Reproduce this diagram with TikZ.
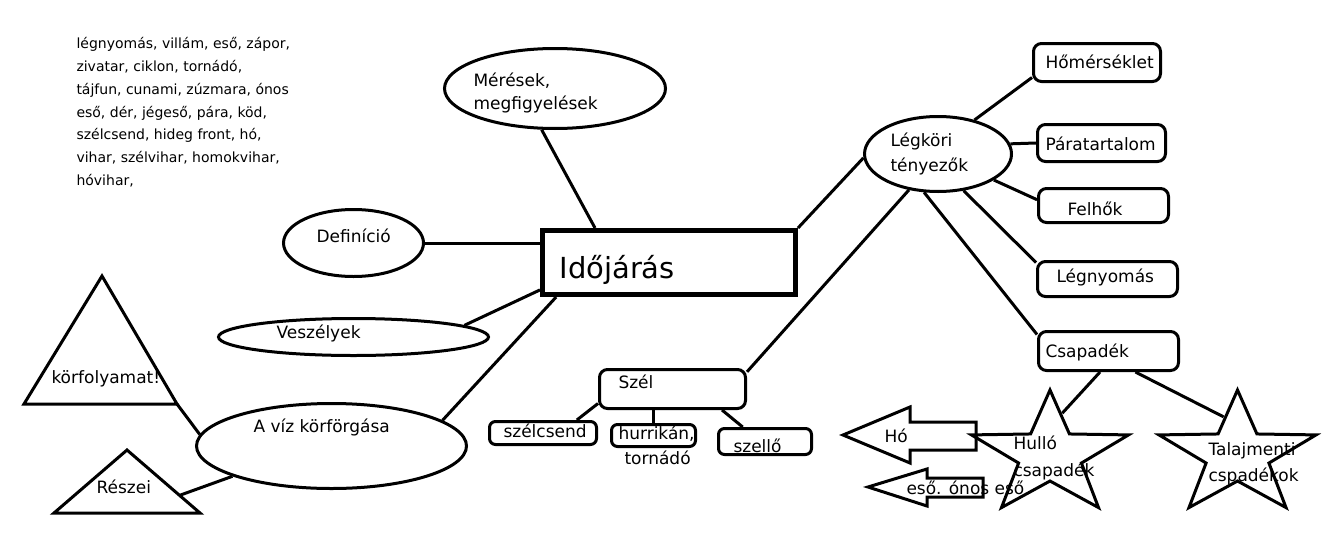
\documentclass[tikz,border=0pt]{standalone}
\usepackage{fontspec}
\setmainfont{DejaVu Sans}
\usetikzlibrary{shapes.geometric,calc}

\begin{document}
\begin{tikzpicture}[x=1pt,y=-1pt,line width=3pt,
 bubble/.style={draw,ellipse,inner sep=0pt},
 tag/.style={draw,rounded corners=8pt,inner sep=0pt},
 txt/.style={inner sep=0pt,anchor=base west,font=\fontsize{17}{23}\selectfont},
 txts/.style={inner sep=0pt,anchor=north west,align=left,font=\fontsize{17}{#1}\selectfont},
 starn/.style={draw,star,star points=5,star point ratio=2.5,minimum size=130pt,inner sep=0pt,xscale=1.27,transform shape}]
 \fill[white](0,0)rectangle(1340,538);
 \useasboundingbox(0,0)rectangle(1340,538);
 \node[txts=22.8,font=\fontsize{14}{22.8}\selectfont](list)at(75,36){légnyomás, villám, eső, zápor,\\zivatar, ciklon, tornádó,\\tájfun, cunami, zúzmara, ónos\\eső, dér, jégeső, pára, köd,\\szélcsend, hideg front, hó,\\vihar, szélvihar, homokvihar,\\hóvihar,};
 \node[draw,line width=5pt,minimum width=253pt,minimum height=64pt,inner sep=0pt](ido)at(669,262.5){};
 \node[bubble,minimum width=221pt,minimum height=80pt](mer)at(555,88.5){};
 \node[bubble,minimum width=140pt,minimum height=67pt](def)at(353.5,243){};
 \node[bubble,minimum width=270pt,minimum height=37pt](vesz)at(353.5,337){};
 \node[bubble,minimum width=270pt,minimum height=85pt](viz)at(331.5,446){};
 \node[bubble,minimum width=147pt,minimum height=75pt](leg)at(938,154){};
 \node[tag,minimum width=127pt,minimum height=38pt](hom)at(1097,62.5){};
 \node[tag,minimum width=128pt,minimum height=37pt](para)at(1101.5,143){};
 \node[tag,minimum width=130pt,minimum height=34pt](felh)at(1103.5,205.5){};
 \node[tag,minimum width=140pt,minimum height=35pt](lny)at(1107.5,279){};
 \node[tag,minimum width=140pt,minimum height=39pt](csap)at(1108.5,351){};
 \node[tag,minimum width=146pt,minimum height=39pt](szel)at(672.5,389){};
 \node[tag,rounded corners=6pt,minimum width=107pt,minimum height=23pt](szcs)at(543,433){};
 \node[tag,rounded corners=6pt,minimum width=84pt,minimum height=22pt](hurr)at(653.5,435.5){};
 \node[tag,rounded corners=6pt,minimum width=93pt,minimum height=26pt](szello)at(765,441.5){};
 \node[starn](hullo)at(1050,455){};
 \node[starn](talaj)at(1237.5,455){};
 \coordinate(kf-top)at(102,276);\coordinate(kf-l)at(24,404);\coordinate(kf-r)at(177,404);
 \coordinate(rs-top)at(127,450);\coordinate(rs-l)at(54,513);\coordinate(rs-r)at(200,513);
 \draw(kf-top)--(kf-l)--(kf-r)--cycle;
 \draw(rs-top)--(rs-l)--(rs-r)--cycle;
 \draw(843,435)--(910,407)--(910,422)--(976,422)--(976,450)--(910,450)--(910,463)--cycle;
 \draw(868,487)--(927,469)--(927,478)--(983,478)--(983,497)--(927,497)--(927,506)--cycle;
 \draw(mer.252)--(ido.155);
 \draw(def.east)--(def.east-|ido.west);
 \draw(vesz.6)--(ido.192);
 \draw(viz.13)--(ido.197);
 \draw(ido.north east)--(leg.183);
 \draw(leg.43)--(hom.193);
 \draw(leg.8)--(para.west);
 \draw(leg.335)--(felh.175);
 \draw(leg.305)--(lny.167);
 \draw(leg.250)--(csap.167);
 \draw(leg.231)--(szel.13);
 \draw(szel.191)--(szcs.21);
 \draw(hurr.north)--(hurr.north|-szel.south);
 \draw(szel.337)--(szello.147);
 \draw(csap.248)--(hullo.77);
 \draw(csap.322)--(talaj.106);
 \draw(kf-r)--(viz.175);
 \draw($(rs-top)!.72!(rs-r)$)--(viz.197);
 \node[txts=23](mer-t)at(472,71.7){Mérések,\\megfigyelések};
 \node[txt](def-t)at(315,242){Definíció};
 \node[txt](vesz-t)at(275,338){Veszélyek};
 \node[txt](viz-t)at(252,432){A víz körförgása};
 \node[txt](kf-t)at(50,383){körfolyamat!};
 \node[txt](rs-t)at(95,493){Részei};
 \node[txt,font=\fontsize{29}{34}\selectfont](ido-t)at(558,278){Időjárás};
 \node[txts=25](leg-t)at(889,131.7){Légköri\\tényezők};
 \node[txt](hom-t)at(1044,68){Hőmérséklet};
 \node[txt](para-t)at(1044,150){Páratartalom};
 \node[txt](felh-t)at(1066,215){Felhők};
 \node[txt](lny-t)at(1055,282){Légnyomás};
 \node[txt](csap-t)at(1044,357){Csapadék};
 \node[txt](szel-t)at(617,388){Szél};
 \node[txt](szcs-t)at(502,437){szélcsend};
 \node[txts=25](hurr-t)at(617,424.7){hurrikán,\\\hspace{6pt}tornádó};
 \node[txt](szello-t)at(732,452){szellő};
 \node[txt](ho-t)at(883,442){Hó};
 \node[txt](eso-t)at(905,494){eső. ónos eső};
 \node[txts=27](hullo-t)at(1012,434.7){Hulló\\csapadék};
 \node[txts=26](talaj-t)at(1207,440.7){Talajmenti\\cspadékok};
\end{tikzpicture}
\end{document}
